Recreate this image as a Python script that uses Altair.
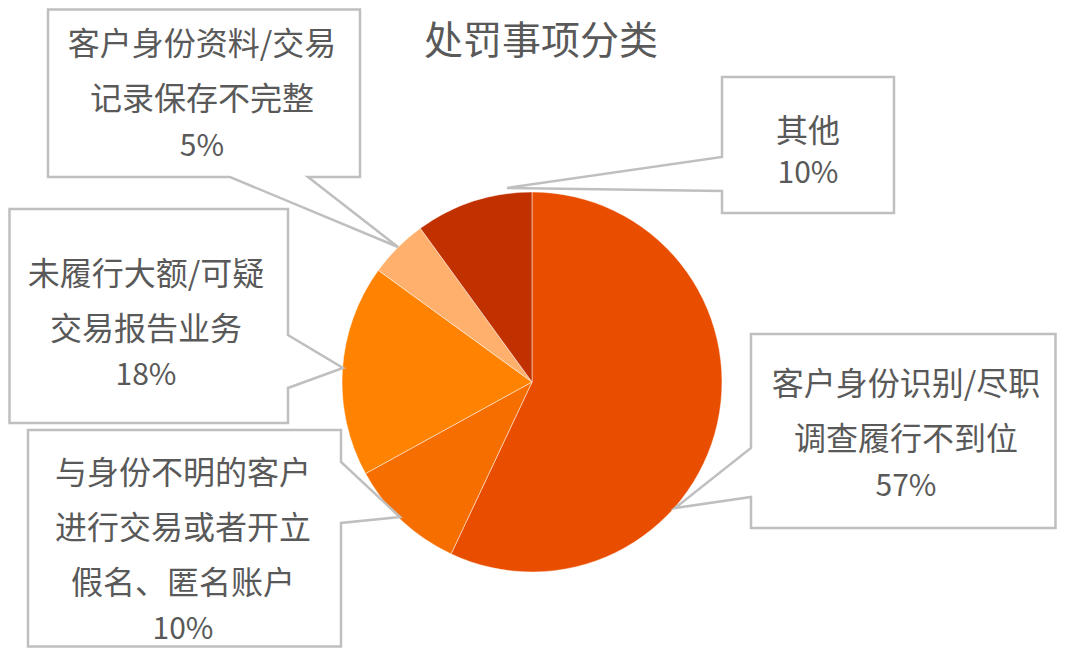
import altair as alt
import pandas as pd

# ---- data ----
categories = ["客户身份识别/尽职调查履行不到位",
              "与身份不明的客户进行交易或者开立假名、匿名账户",
              "未履行大额/可疑交易报告业务",
              "客户身份资料/交易记录保存不完整",
              "其他"]
values = [57, 10, 18, 5, 10]
label_lines = [["客户身份识别/尽职", "调查履行不到位"],
               ["与身份不明的客户", "进行交易或者开立", "假名、匿名账户"],
               ["未履行大额/可疑", "交易报告业务"],
               ["客户身份资料/交易", "记录保存不完整"],
               ["其他"]]
colors = ["#E94E00", "#F66E00", "#FF8200", "#FFB06C", "#C13100"]
title_text = "处罚事项分类"

# ---- layout (page pixel coordinates) ----
W, H = 1049, 640
OFF = 8
cx, cy, R = 532, 382, 190
# box (x0, y0, x1, y1), notch side, two base positions along side, tip,
# text centre x, first line y, gap before percent line
callouts = [
    dict(box=(751, 334, 1063, 528), side="left", base=(448, 497), tip=(675, 508), tx=906, ty0=385, pg=47),
    dict(box=(28, 430, 341, 651), side="right", base=(462, 523), tip=(400, 517), tx=183, ty0=474, pg=46),
    dict(box=(4, 209, 288, 423), side="right", base=(335, 388), tip=(343, 368), tx=146, ty0=275, pg=46),
    dict(box=(48, 1, 360, 177), side="bottom", base=(230, 308), tip=(398, 247), tx=202, ty0=45, pg=47),
    dict(box=(722, 77, 894, 213), side="left", base=(157, 191), tip=(507, 188), tx=808, ty0=132, pg=42),
]
LINE_GAP = 55


def clampx(v):
    return min(max(v, OFF + 1.5), OFF + W - 1.5)


def clampy(v):
    return min(max(v, OFF + 1.5), OFF + H - 1.5)


pie_df = pd.DataFrame({"cat": categories, "value": values, "order": list(range(len(values)))})

rows = []
for i, c in enumerate(callouts):
    x0, y0, x1, y1 = c["box"]
    x0, x1 = clampx(x0), clampx(x1)
    y0, y1 = clampy(y0), clampy(y1)
    a, b = c["base"]
    tx, ty = c["tip"]
    pts = [(x0, y0), (x1, y0)]
    if c["side"] == "right":
        pts += [(x1, a), (tx, ty), (x1, b)]
    pts += [(x1, y1)]
    if c["side"] == "bottom":
        pts += [(b, y1), (tx, ty), (a, y1)]
    pts += [(x0, y1)]
    if c["side"] == "left":
        pts += [(x0, b), (tx, ty), (x0, a)]
    pts += [(x0, y0), (x1, y0)]
    for k, (px, py) in enumerate(pts):
        rows.append({"id": i, "k": k, "px": px, "py": py})
line_df = pd.DataFrame(rows)

trows = []
for i, c in enumerate(callouts):
    y = c["ty0"]
    for j, ln in enumerate(label_lines[i]):
        trows.append({"txt": ln, "tx": c["tx"], "ty": y, "fs": 32})
        y += LINE_GAP
    y = y - LINE_GAP + c["pg"]
    trows.append({"txt": f"{values[i]}%", "tx": c["tx"], "ty": y, "fs": 30})
text_df = pd.DataFrame(trows)

xs = alt.Scale(domain=[OFF, OFF + W], nice=False, zero=False)
ys = alt.Scale(domain=[OFF, OFF + H], nice=False, zero=False, reverse=True)

pie = alt.Chart(pie_df).mark_arc(outerRadius=R, stroke="#ffffff", strokeWidth=0.8,
                                  strokeOpacity=0.6).encode(
    theta=alt.Theta("value:Q", stack=True),
    order=alt.Order("order:Q"),
    color=alt.Color("cat:N", scale=alt.Scale(domain=categories, range=colors), legend=None),
    x=alt.value(cx - OFF), y=alt.value(cy - OFF),
)

lines = alt.Chart(line_df).mark_line(stroke="#BFBFBF", strokeWidth=2.5, strokeJoin="miter").encode(
    x=alt.X("px:Q", scale=xs, axis=None),
    y=alt.Y("py:Q", scale=ys, axis=None),
    detail="id:N",
    order="k:Q",
)

texts = alt.Chart(text_df).mark_text(font="Noto Sans CJK SC", color="#595959",
                                     align="center", baseline="middle").encode(
    x=alt.X("tx:Q", scale=xs, axis=None),
    y=alt.Y("ty:Q", scale=ys, axis=None),
    text="txt:N",
    size=alt.Size("fs:Q", scale=None, legend=None),
)

title = alt.Chart(pd.DataFrame({"t": [title_text]})).mark_text(
    font="Noto Sans CJK SC", fontSize=39, color="#595959", align="center", baseline="middle"
).encode(x=alt.value(541 - OFF), y=alt.value(42 - OFF), text="t:N")

chart = alt.layer(pie, lines, texts, title).properties(
    width=W, height=H, padding=0, autosize=alt.AutoSizeParams(type="none")
).configure_view(stroke=None)

chart.save("out.html", embed_options={"renderer": "svg", "actions": False})
